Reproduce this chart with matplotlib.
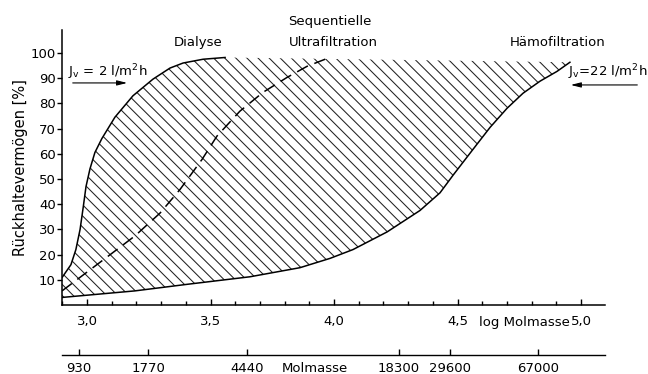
import numpy as np
import matplotlib
matplotlib.use("Agg")
import matplotlib.pyplot as plt
from matplotlib.ticker import FixedLocator, NullFormatter

plt.rcParams['font.family'] = ['DejaVu Sans']
plt.rcParams['hatch.linewidth'] = 0.75

# ---- data (x = log Molmasse, y = Rückhaltevermögen %) ----
dialyse_x = [2.899, 2.935, 2.955, 2.972, 2.985, 2.996, 3.012, 3.032, 3.060,
             3.113, 3.186, 3.267, 3.336, 3.389, 3.470, 3.559]
dialyse_y = [10.9, 16.0, 22.0, 30.0, 39.0, 47.0, 54.0, 60.5, 66.0,
             74.5, 83.0, 89.6, 94.0, 96.0, 97.5, 98.2]

seq_x = [2.899, 3.040, 3.194, 3.296, 3.377, 3.466, 3.526, 3.619, 3.713,
         3.810, 3.891, 3.964]
seq_y = [5.6, 16.0, 27.4, 36.5, 45.9, 57.8, 67.0, 76.9, 84.4,
         90.3, 94.7, 97.5]

haemo_x = [2.899, 3.194, 3.405, 3.660, 3.862, 3.984, 4.077, 4.215, 4.348,
           4.429, 4.482, 4.563, 4.632, 4.700, 4.765, 4.834, 4.903, 4.955]
haemo_y = [3.0, 5.6, 8.2, 11.2, 14.8, 18.5, 22.0, 29.0, 37.5,
           44.5, 51.5, 61.8, 70.5, 78.0, 84.0, 88.8, 92.7, 96.3]

log_ticks = [3.0, 3.5, 4.0, 4.5, 5.0]
log_labels = ['3,0', '3,5', '4,0', '4,5', '5,0']
log_minor = [2.9, 3.1, 3.2, 3.3, 3.4, 3.6, 3.7, 3.8, 3.9, 4.1, 4.2, 4.3,
             4.4, 4.6, 4.7, 4.8, 4.9, 5.1]
y_ticks = [10, 20, 30, 40, 50, 60, 70, 80, 90, 100]
mass_ticks = [930, 1770, 4440, 18300, 29600, 67000]

# ---- figure ----
W, H = 648, 374
fig = plt.figure(figsize=(W / 100, H / 100), dpi=100)
ax = fig.add_axes([62 / W, 1 - 305 / H, (605 - 62) / W, (305 - 30) / H])
ax.set_xlim(2.8988, 5.097)
ax.set_ylim(0, 109.1)

for s in ['top', 'right']:
    ax.spines[s].set_visible(False)
for s in ['left', 'bottom']:
    ax.spines[s].set_linewidth(1.1)

# hatched region
poly_x = dialyse_x + haemo_x[::-1]
poly_y = dialyse_y + haemo_y[::-1]
ax.fill(poly_x, poly_y, facecolor='none', edgecolor='#222222', linewidth=0,
        hatch='\\\\\\')

ax.plot(dialyse_x, dialyse_y, color='black', lw=1.1)
ax.plot(haemo_x, haemo_y, color='black', lw=1.1)
ax.plot(seq_x, seq_y, color='black', lw=1.1, dashes=(8, 4.5))

# axes ticks
ax.xaxis.set_major_locator(FixedLocator(log_ticks))
ax.set_xticklabels(log_labels)
ax.xaxis.set_minor_locator(FixedLocator(log_minor))
ax.tick_params(axis='x', which='major', direction='in', length=4, width=1,
               labelsize=9.5, pad=7)
ax.tick_params(axis='x', which='minor', direction='in', length=3, width=1)
ax.set_yticks(y_ticks)
ax.tick_params(axis='y', direction='out', length=3.5, width=1,
               labelsize=9.5, pad=1)
ax.set_ylabel('Rückhaltevermögen [%]', fontsize=10.5, labelpad=2)

ax.text(4.585, -6.9, 'log Molmasse', fontsize=9.5, ha='left', va='center',
        clip_on=False)

# secondary mass axis
sec = ax.secondary_xaxis(-0.182, functions=(lambda x: 10 ** np.asarray(x),
                                             lambda m: np.log10(np.asarray(m))))
sec.set_xticks(mass_ticks)
sec.set_xticklabels([str(m) for m in mass_ticks])
sec.xaxis.set_minor_formatter(NullFormatter())
sec.xaxis.set_minor_locator(FixedLocator([]))
sec.tick_params(axis='x', direction='in', length=4, width=1, labelsize=9.5,
                pad=5)
sec.spines['bottom'].set_linewidth(1.0)
fig.text(315 / W, 1 - 369 / H, 'Molmasse', fontsize=9.5, ha='center',
         va='center')

# annotations
ax.text(3.449, 104, 'Dialyse', fontsize=9.5, ha='center', va='center',
        clip_on=False)
ax.text(3.814, 112.3, 'Sequentielle', fontsize=9.5, ha='left', va='center',
        clip_on=False)
ax.text(3.818, 104, 'Ultrafiltration', fontsize=9.5, ha='left', va='center',
        clip_on=False)
ax.text(4.713, 104, 'Hämofiltration', fontsize=9.5, ha='left', va='center',
        clip_on=False)

ax.text(2.923, 92.5, r'J$_\mathrm{v}$ = 2 l/m$^2$h', fontsize=9.5, ha='left',
        va='center', clip_on=False)
ax.annotate('', xy=(3.174, 88.1), xytext=(2.931, 88.1),
            arrowprops=dict(arrowstyle='-|>,head_length=0.6,head_width=0.15',
                            color='black', lw=0.8), annotation_clip=False)
ax.text(4.947, 92.5, r'J$_\mathrm{v}$=22 l/m$^2$h', fontsize=9.5, ha='left',
        va='center', clip_on=False)
ax.annotate('', xy=(4.947, 87.3), xytext=(5.239, 87.3),
            arrowprops=dict(arrowstyle='-|>,head_length=0.6,head_width=0.15',
                            color='black', lw=0.8), annotation_clip=False)

fig.savefig('out.png', dpi=100)
